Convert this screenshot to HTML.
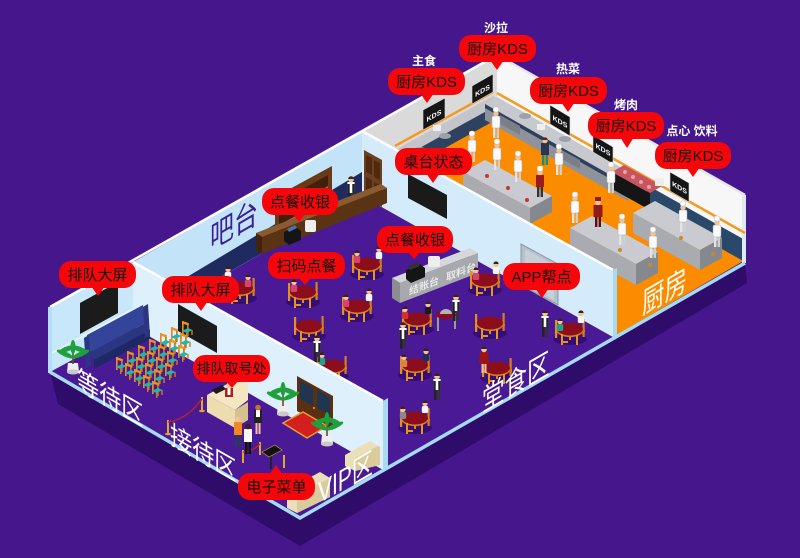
<!DOCTYPE html>
<html><head><meta charset="utf-8"><style>
html,body{margin:0;padding:0;background:#46168c;width:800px;height:558px;overflow:hidden}
svg{display:block}
text{font-family:"Liberation Sans","Noto Sans CJK SC",sans-serif}
</style></head><body>
<svg width="800" height="558" viewBox="0 0 800 558" xmlns="http://www.w3.org/2000/svg">
<defs>
 <g id="t">
  <ellipse cx="0" cy="10" rx="17" ry="6" fill="#340e74"/>
  <rect x="-15" y="-9" width="2.2" height="18" fill="#e4901f"/>
  <rect x="-15" y="2" width="7" height="2" fill="#e4901f"/>
  <rect x="12.5" y="-10" width="2.2" height="18" fill="#d97f17"/>
  <rect x="8" y="1" width="7" height="2" fill="#d97f17"/>
  <rect x="-1" y="2" width="2" height="9" fill="#e18a1c"/>
  <ellipse cx="0" cy="1.6" rx="13" ry="6.5" fill="#d9801e"/>
  <ellipse cx="0" cy="0" rx="13" ry="6.5" fill="#8c0e1d"/>
  <rect x="-9" y="5" width="2" height="11" fill="#e89520"/>
  <rect x="-9" y="12" width="7" height="2" fill="#e89520"/>
  <rect x="6" y="6" width="2" height="10" fill="#e89520"/>
 </g>
 <g id="s">
  <rect x="-3.2" y="-6" width="6.4" height="7" rx="1.5"/>
  <circle cx="0" cy="-8.5" r="2.6" fill="#f2c29a"/>
  <path d="M-2.6,-9 a2.6,2.6 0 0 1 5.2,0 z" fill="#3a2214"/>
 </g>
 <g id="w">
  <rect x="-3" y="-11" width="2.5" height="11" fill="#222"/>
  <rect x="0.5" y="-11" width="2.5" height="11" fill="#333"/>
  <rect x="-3.6" y="-21" width="7.2" height="11" fill="#fff"/>
  <rect x="-3.6" y="-19" width="2.3" height="9" fill="#222"/>
  <rect x="1.3" y="-19" width="2.3" height="9" fill="#222"/>
  <circle cx="0" cy="-23.5" r="2.8" fill="#f2c29a"/>
  <path d="M-2.8,-24 a2.8,2.8 0 0 1 5.6,0 z" fill="#3b2314"/>
 </g>
 <g id="c">
  <rect x="-3" y="-11" width="2.4" height="11" fill="#e4e4e4"/>
  <rect x="0.6" y="-11" width="2.4" height="11" fill="#cfcfcf"/>
  <rect x="-4" y="-22" width="8" height="12" rx="1.5" fill="#fafafa" stroke="#aaa" stroke-width=".5"/>
  <circle cx="0" cy="-24.5" r="2.7" fill="#f2c29a"/>
  <rect x="-2.8" y="-31" width="5.6" height="5" rx="2" fill="#fff" stroke="#bbb" stroke-width=".5"/>
 </g>
 <g id="k">
  <rect x="0" y="-10" width="1.7" height="13" fill="#e08b20"/>
  <rect x="5" y="-8" width="1.7" height="13" fill="#c8741a"/>
  <polygon points="0,-10 6.7,-8 6.7,-5.5 0,-7.5" fill="#e89522"/>
  <polygon points="0,0 6,-3 10.5,-1 4.5,2" fill="#22b5ab"/>
  <rect x="4" y="2" width="1.4" height="5" fill="#d07c1a"/>
  <rect x="9.3" y="-1" width="1.4" height="5" fill="#d07c1a"/>
 </g>
 <g id="p">
  <path d="M-6,0 L-5,-9 L5,-9 L6,0 Z" fill="#eeeeee"/>
  <ellipse cx="0" cy="0" rx="6" ry="2.5" fill="#c9c9c9"/>
  <rect x="-0.8" y="-20" width="1.6" height="12" fill="#6b4a20"/>
  <g fill="#1fa03c">
   <ellipse cx="-8" cy="-18" rx="9" ry="2.5" transform="rotate(25 -8 -18)"/>
   <ellipse cx="8" cy="-18" rx="9" ry="2.5" transform="rotate(-25 8 -18)"/>
   <ellipse cx="-6" cy="-23" rx="8" ry="2.5" transform="rotate(-20 -6 -23)"/>
   <ellipse cx="6" cy="-23" rx="8" ry="2.5" transform="rotate(20 6 -23)"/>
   <ellipse cx="0" cy="-25" rx="2.5" ry="7"/>
  </g>
 </g>
</defs>

<rect width="800" height="558" fill="#46168c"/>
<polygon points="50,372 300,518 745,263 747,283 300,546 58,404" fill="#2f0c6a"/>
<polygon points="50,372 362,196 497,118 745,262 300,518" fill="#4a1a96"/>
<polygon points="362,196 497,118 745,260 613,337" fill="#fb8c00"/>

<polygon points="50,307 133,262 133,327 50,372" fill="#c9e7fa"/>
<line x1="50" y1="354" x2="133" y2="309" stroke="#eaf7fe" stroke-width="1.5"/>
<polygon points="133,262 362,131 362,196 133,327" fill="#c3e3f8"/>
<polygon points="187,277 362,172 362,196 187,296" fill="#1f2a5e"/>
<polygon points="362,131 497,55 497,118 362,194" fill="#dadada"/>
<polygon points="497,55 745,195 745,262 497,120" fill="#f7f7f7"/>
<polygon points="647,185 745,240 745,262 647,207" fill="#2a4869"/>
<line x1="50" y1="307" x2="497" y2="55" stroke="#ffffff" stroke-width="2.5"/>
<line x1="497" y1="55" x2="745" y2="195" stroke="#e6e6e6" stroke-width="2.5"/>
<rect x="742" y="195" width="4" height="68" fill="#dfe9f0"/>
<rect x="48" y="307" width="4" height="66" fill="#b3def6"/>

<polygon points="80,303 118,282 118,313 80,334" fill="#1b1b1b"/>

<line x1="395" y1="146" x2="493" y2="92" stroke="#f59a20" stroke-width="2.5"/>
<line x1="497" y1="93" x2="745" y2="233" stroke="#f59a20" stroke-width="2.5"/>
<polygon points="395,150 493,96 503,102 405,156" fill="#c3c5ca"/>
<polygon points="405,156 503,102 503,116 405,170" fill="#2f4160"/>
<polygon points="497,97 640,178 628,185 485,104" fill="#c7c9ce"/>
<polygon points="485,104 628,185 628,201 485,120" fill="#8e939b"/>
<polygon points="485,104 628,185 628,189 485,108" fill="#2e3f5c"/>
<g fill="#7a7f88">
 <polygon points="500,115 520,126 520,135 500,124"/>
 <polygon points="560,149 580,160 580,169 560,158"/>
</g>
<g fill="#9da1a8">
 <ellipse cx="420" cy="150" rx="6" ry="3"/>
 <ellipse cx="445" cy="136" rx="6" ry="3"/>
 <ellipse cx="525" cy="116" rx="6" ry="3"/>
 <ellipse cx="565" cy="139" rx="6" ry="3"/>
</g>
<polygon points="612,172 650,193 650,210 612,189" fill="#151515"/>
<polygon points="612,172 624,165 662,186 650,193" fill="#c7555f"/>
<g fill="#e8a0a8"><circle cx="625" cy="172" r="2"/><circle cx="633" cy="177" r="2"/><circle cx="641" cy="182" r="2"/><circle cx="649" cy="187" r="2"/></g>
<rect x="433" y="125" width="8" height="6" fill="#eee"/>
<rect x="537" y="124" width="8" height="6" fill="#eee"/>
<rect x="655" y="178" width="9" height="8" fill="#eee"/>

<polygon points="423,110 445,98 445,118 423,130" fill="#151515" stroke="#ddd" stroke-width=".6"/>
<text transform="translate(434,118) skewY(-29)" font-size="7" font-weight="bold" fill="#fff" text-anchor="middle">KDS</text>
<polygon points="472,86 493,74 493,92 472,104" fill="#151515" stroke="#ddd" stroke-width=".6"/>
<text transform="translate(482.5,93) skewY(-29)" font-size="7" font-weight="bold" fill="#fff" text-anchor="middle">KDS</text>
<polygon points="550,105 570,117 570,136 550,124" fill="#151515" stroke="#ddd" stroke-width=".6"/>
<text transform="translate(560,124) skewY(30)" font-size="7" font-weight="bold" fill="#fff" text-anchor="middle">KDS</text>
<polygon points="593,135 613,147 613,164 593,152" fill="#151515" stroke="#ddd" stroke-width=".6"/>
<text transform="translate(603,152) skewY(30)" font-size="7" font-weight="bold" fill="#fff" text-anchor="middle">KDS</text>
<polygon points="670,172 689,183 689,202 670,191" fill="#151515" stroke="#ddd" stroke-width=".6"/>
<text transform="translate(679.5,190) skewY(30)" font-size="7" font-weight="bold" fill="#fff" text-anchor="middle">KDS</text>

<use href="#c" x="496" y="138"/>
<use href="#c" x="472" y="162"/>
<g transform="translate(545,165)"><rect x="-3" y="-11" width="2.4" height="11" fill="#1f8a7a"/><rect x="0.6" y="-11" width="2.4" height="11" fill="#1f8a7a"/><rect x="-4" y="-22" width="8" height="12" fill="#2a3550"/><circle cx="0" cy="-24.5" r="2.7" fill="#f2c29a"/><path d="M-2.7,-25 a2.7,2.7 0 0 1 5.4,0 z" fill="#5a2a10"/></g>
<use href="#c" x="559" y="175"/>
<use href="#c" x="611" y="193"/>

<polygon points="463,172 485,160 552,196 530,208" fill="#c9cbd0"/>
<polygon points="463,172 530,208 530,224 463,188" fill="#a9abb0"/>
<polygon points="530,208 552,196 552,212 530,224" fill="#85888e"/>
<use href="#c" x="497" y="170"/>
<use href="#c" x="518" y="182"/>
<g transform="translate(540,197)"><rect x="-3" y="-11" width="2.4" height="11" fill="#333"/><rect x="0.6" y="-11" width="2.4" height="11" fill="#333"/><rect x="-4" y="-22" width="8" height="12" fill="#9a1b1b"/><circle cx="0" cy="-24.5" r="2.7" fill="#f2c29a"/><rect x="-2.8" y="-31" width="5.6" height="5" rx="2" fill="#fff"/></g>
<g fill="#c23a2a"><circle cx="487" cy="176" r="2"/><circle cx="508" cy="188" r="2"/><circle cx="527" cy="200" r="2"/></g>

<polygon points="633,213 655,201 722,238 700,250" fill="#c9cbd0"/>
<polygon points="633,213 700,250 700,270 633,233" fill="#a9abb0"/>
<polygon points="700,250 722,238 722,258 700,270" fill="#85888e"/>
<use href="#c" x="683" y="232"/>
<use href="#c" x="717" y="247"/>

<polygon points="570,228 592,216 658,252 636,264" fill="#c9cbd0"/>
<polygon points="570,228 636,264 636,285 570,249" fill="#a9abb0"/>
<polygon points="636,264 658,252 658,273 636,285" fill="#85888e"/>
<use href="#c" x="575" y="223"/>
<g transform="translate(598,227)"><rect x="-3" y="-11" width="2.4" height="11" fill="#5a1010"/><rect x="0.6" y="-11" width="2.4" height="11" fill="#5a1010"/><rect x="-4.5" y="-22" width="9" height="12" fill="#8e1c1c"/><circle cx="0" cy="-24.5" r="2.7" fill="#f2c29a"/><rect x="-3" y="-30" width="6" height="4" fill="#8e1c1c"/></g>
<use href="#c" x="622" y="245"/>
<use href="#c" x="653" y="258"/>
<g fill="#c98a2a"><circle cx="620" cy="250" r="2"/><circle cx="650" cy="265" r="2"/><circle cx="713" cy="254" r="2"/><circle cx="681" cy="238" r="2"/></g>

<polygon points="362,131 613,270 613,337 362,196" fill="#d3ebfb"/>
<line x1="362" y1="131" x2="613" y2="270" stroke="#ffffff" stroke-width="2.5"/>
<polygon points="613,270 617,268 617,335 613,337" fill="#a9daf3"/>
<polygon points="521,244 558,264 558,305 521,285" fill="#b6c1cd" stroke="#8c98a5" stroke-width="1"/>
<polygon points="525,249 554,265 554,300 525,284" fill="#c6d0da"/>
<circle cx="529" cy="270" r="1.8" fill="#4a5a7a"/>
<polygon points="408,174 447,195 447,219 408,198" fill="#1a1a1a"/>
<polygon points="364,150 382,160 382,207 364,197" fill="#6d3f1e"/>
<polygon points="366,155 372,158 372,175 366,172" fill="#4f2a10"/>
<polygon points="374,160 380,163 380,180 374,177" fill="#4f2a10"/>
<polygon points="366,177 372,180 372,197 366,194" fill="#4f2a10"/>
<polygon points="374,182 380,185 380,202 374,199" fill="#4f2a10"/>

<polygon points="275,197 332,166 332,215 275,246" fill="#6a3a18"/>
<polygon points="279,202 328,175 328,209 279,236" fill="#3e200b"/>
<g fill="#9b6a3a"><polygon points="279,213 328,186 328,188 279,215"/><polygon points="279,225 328,198 328,200 279,227"/></g>
<use href="#w" x="351" y="203"/>
<polygon points="256,233 381,184 387,188 262,237" fill="#8a5a30"/>
<polygon points="262,237 387,188 387,203 262,254" fill="#5a3214"/>
<polygon points="256,233 262,237 262,254 256,250" fill="#432309"/>
<polygon points="284,232 296,227 301,231 301,240 289,245 284,241" fill="#151515"/>
<polygon points="287,229 295,225 297,228 289,232" fill="#4b6fb0"/>
<rect x="305" y="220" width="11" height="12" rx="2" fill="#eeeeee"/>

<polygon points="392,278 470,248 478,253 400,283" fill="#d5d7db"/>
<polygon points="400,283 478,253 478,273 400,303" fill="#a7a9ae"/>
<polygon points="392,278 400,283 400,303 392,298" fill="#8b8d92"/>
<polygon points="406,270 420,264 425,268 425,277 411,283 406,279" fill="#151515"/>
<polygon points="408,266 418,262 420,266 410,270" fill="#333"/>
<rect x="428" y="256" width="12" height="11" rx="2" fill="#eeeeee"/>
<text transform="translate(409,295) skewY(-21)" font-size="10" font-weight="bold" fill="#e8e8e8">结账台</text>
<text transform="translate(446,281) skewY(-21)" font-size="10" font-weight="bold" fill="#e8e8e8">取料台</text>

<use href="#t" x="240" y="288"/>
<use href="#t" x="367" y="264"/>
<use href="#t" x="303" y="292"/>
<use href="#t" x="357" y="306"/>
<use href="#t" x="309" y="326"/>
<use href="#t" x="332" y="366"/>
<use href="#t" x="417" y="319"/>
<use href="#t" x="485" y="280"/>
<use href="#t" x="490" y="323"/>
<use href="#t" x="415" y="365"/>
<use href="#t" x="497" y="368"/>
<use href="#t" x="415" y="418"/>
<use href="#t" x="570" y="329"/>
<use href="#s" x="228" y="278" fill="#f4f4f4"/>
<use href="#s" x="248" y="286" fill="#d5446a"/>
<use href="#s" x="379" y="258" fill="#f4f4f4"/>
<use href="#s" x="357" y="262" fill="#d5446a"/>
<use href="#s" x="294" y="291" fill="#d5446a"/>
<use href="#s" x="369" y="300" fill="#f4f4f4"/>
<use href="#s" x="346" y="306" fill="#d5446a"/>
<use href="#s" x="405" y="318" fill="#d83030"/>
<use href="#s" x="428" y="313" fill="#1a1a1a"/>
<use href="#s" x="476" y="279" fill="#d5446a"/>
<use href="#s" x="496" y="273" fill="#f4f4f4"/>
<use href="#s" x="404" y="366" fill="#e08040"/>
<use href="#s" x="426" y="360" fill="#1e2e5e"/>
<use href="#s" x="322" y="364" fill="#23a08a"/>
<use href="#s" x="403" y="418" fill="#888"/>
<use href="#s" x="425" y="412" fill="#f4f4f4"/>
<use href="#s" x="560" y="330" fill="#23a08a"/>
<use href="#s" x="581" y="322" fill="#f4f4f4"/>
<rect x="437" y="315" width="2" height="16" fill="#9a9a9a"/>
<rect x="454" y="313" width="2" height="16" fill="#9a9a9a"/>
<ellipse cx="446" cy="315" rx="10" ry="4" fill="#8c0e1d"/>
<path d="M440,314 a6,5 0 0 1 12,0 z" fill="#b5b5b5"/>
<use href="#w" x="456" y="321"/>
<use href="#w" x="545" y="337"/>
<use href="#w" x="403" y="349"/>
<use href="#w" x="437" y="400"/>
<use href="#w" x="317" y="362"/>
<g transform="translate(484,373)"><rect x="-2.5" y="-11" width="2" height="11" fill="#f2c29a"/><rect x="0.5" y="-11" width="2" height="11" fill="#f2c29a"/><path d="M-4,-21 L4,-21 L5,-9 L-5,-9 Z" fill="#9b1515"/><circle cx="0" cy="-23.5" r="2.8" fill="#f2c29a"/><path d="M-2.8,-24 a2.8,2.8 0 0 1 5.6,0 z" fill="#3b2314"/></g>

<polygon points="133,262 383,401 383,470 133,327" fill="#ddf0fc"/>
<line x1="133" y1="262" x2="383" y2="401" stroke="#ffffff" stroke-width="2.5"/>
<polygon points="383,401 388,398 388,467 383,470" fill="#a9daf3"/>
<polygon points="178,304 217,326 217,353 178,331" fill="#1b1b1b"/>
<polygon points="297,376 333,396 333,430 297,411" fill="#5b2f12"/>
<polygon points="300,381 313,388 313,406 300,399" fill="#1f3550"/>
<polygon points="317,390 330,397 330,415 317,408" fill="#1f3550"/>
<circle cx="314" cy="408" r="1" fill="#e0b040"/>
<polygon points="283,423 303,412 327,426 307,438" fill="#d41f1f" stroke="#e0a030" stroke-width="1.5"/>
<use href="#p" x="283" y="414"/>
<use href="#p" x="327" y="444"/>

<polygon points="87,335 143,305 145,323 89,353" fill="#34449a"/>
<polygon points="89,353 145,323 150,330 94,360" fill="#2a3680"/>
<polygon points="94,360 150,330 150,339 94,369" fill="#1e2866"/>
<polygon points="84,338 89,335 91,366 86,368" fill="#2a3680"/>
<polygon points="143,307 148,304 150,336 145,338" fill="#2a3680"/>
<use href="#p" x="73" y="372"/>
<g>
 <use href="#k" x="160" y="343"/><use href="#k" x="171" y="337"/><use href="#k" x="182" y="331"/>
 <use href="#k" x="149" y="349"/><use href="#k" x="158" y="355"/><use href="#k" x="169" y="349"/><use href="#k" x="180" y="343"/>
 <use href="#k" x="138" y="355"/><use href="#k" x="147" y="361"/><use href="#k" x="156" y="367"/><use href="#k" x="167" y="361"/><use href="#k" x="178" y="355"/>
 <use href="#k" x="127" y="361"/><use href="#k" x="136" y="367"/><use href="#k" x="145" y="373"/><use href="#k" x="154" y="379"/><use href="#k" x="165" y="373"/>
 <use href="#k" x="116" y="367"/><use href="#k" x="125" y="373"/><use href="#k" x="134" y="379"/><use href="#k" x="143" y="385"/><use href="#k" x="152" y="391"/>
</g>

<polygon points="207,395 238,378 248,383 248,400 235,410" fill="#f4e6c3"/>
<polygon points="207,395 235,410 235,428 207,412" fill="#eedcb0"/>
<polygon points="235,410 248,402 248,420 235,428" fill="#d6c08e"/>
<polygon points="212,390 222,385 226,389 216,394" fill="#1a1a1a"/>
<g transform="translate(229,397)"><rect x="-4" y="-9" width="8" height="9" fill="#a8201f"/><rect x="-1.5" y="-9" width="3" height="7" fill="#fff"/><circle cx="0" cy="-11.5" r="2.7" fill="#f2c29a"/></g>
<g fill="#e0a828">
 <rect x="167" y="420" width="2" height="14"/><rect x="201" y="397" width="2" height="14"/>
 <rect x="242" y="450" width="2" height="13"/><rect x="259" y="442" width="2" height="13"/><rect x="283" y="455" width="2" height="13"/>
 <ellipse cx="168" cy="434" rx="3" ry="1.2"/><ellipse cx="202" cy="411" rx="3" ry="1.2"/>
</g>
<path d="M168,422 Q186,420 202,399" stroke="#c41e1e" stroke-width="1.3" fill="none"/>
<path d="M243,452 Q252,452 260,444" stroke="#c41e1e" stroke-width="1.3" fill="none"/>
<rect x="270" y="455" width="1.8" height="14" fill="#222"/>
<polygon points="262,452 275,445 282,450 269,457" fill="#111" stroke="#c8a040" stroke-width=".6"/>
<g transform="translate(238,447)"><rect x="-3" y="-13" width="2.5" height="13" fill="#2a3a5a"/><rect x="0.5" y="-13" width="2.5" height="13" fill="#2a3a5a"/><rect x="-4" y="-25" width="8" height="13" fill="#f08a20"/><circle cx="0" cy="-27.5" r="2.8" fill="#f2c29a"/></g>
<g transform="translate(248,454)"><rect x="-3" y="-13" width="2.5" height="13" fill="#111"/><rect x="0.5" y="-13" width="2.5" height="13" fill="#111"/><rect x="-4" y="-25" width="8" height="13" fill="#fafafa"/><circle cx="0" cy="-27.5" r="2.8" fill="#3a2214"/></g>
<g transform="translate(258,434)"><rect x="-2.5" y="-12" width="2" height="12" fill="#f2c29a"/><rect x="0.5" y="-12" width="2" height="12" fill="#f2c29a"/><rect x="-4" y="-24" width="8" height="13" fill="#222"/><rect x="-2" y="-24" width="4" height="7" fill="#fff"/><circle cx="0" cy="-26.5" r="2.8" fill="#c87030"/></g>
<polygon points="345,455 370,441 380,447 380,465 355,471 345,466" fill="#eadfb8"/>
<polygon points="355,458 378,446 380,447 380,465 355,471" fill="#d9cb9c"/>
<polygon points="287,490 320,472 330,478 330,497 297,513 287,508" fill="#eadfb8"/>
<polygon points="297,495 330,478 330,497 297,513" fill="#d9cb9c"/>

<polyline points="50,372 300,518 745,263" fill="none" stroke="#a6dbf5" stroke-width="3.5"/>

<g fill="#ffffff">
 <text transform="translate(77,388) skewY(30) scale(0.82,1)" font-size="27" font-family="Noto Sans CJK SC, sans-serif">等待区</text>
 <text transform="translate(170,443) skewY(30) scale(0.82,1)" font-size="27" font-family="Noto Sans CJK SC, sans-serif">接待区</text>
 <text transform="translate(482,412) skewY(-30) scale(0.75,1)" font-size="30" font-family="Noto Sans CJK SC, sans-serif">堂食区</text>
 <text transform="translate(642,315) skewY(-30) scale(0.75,1)" font-size="30" font-family="Noto Sans CJK SC, sans-serif">厨房</text>
 <text transform="translate(318,504) skewY(-30) scale(0.7,1)" font-size="30">VIP区</text>
</g>
<text transform="translate(210,250) skewY(-30) scale(0.75,1)" font-size="32" fill="#3b2095" font-family="Noto Sans CJK SC, sans-serif">吧台</text>

<g fill="#ffffff" font-size="12" font-weight="bold" text-anchor="middle">
 <text x="424" y="65">主食</text>
 <text x="496" y="32">沙拉</text>
 <text x="568" y="73">热菜</text>
 <text x="626" y="109">烤肉</text>
 <text x="692" y="135">点心 饮料</text>
</g>

<g fill="#f5060a">
 <rect x="388" y="68" width="77" height="27" rx="12"/><polygon points="420,93 434,93 427,103"/>
 <rect x="459" y="35" width="77" height="27" rx="12"/><polygon points="490,60 504,60 497,70"/>
 <rect x="530" y="77" width="77" height="27" rx="12"/><polygon points="561,102 575,102 568,112"/>
 <rect x="588" y="112" width="76" height="27" rx="12"/><polygon points="620,137 634,137 627,148"/>
 <rect x="655" y="142" width="76" height="27" rx="12"/><polygon points="686,167 700,167 693,177"/>
 <rect x="395" y="148" width="77" height="27" rx="12"/><polygon points="426,173 440,173 433,183"/>
 <rect x="262" y="188" width="76" height="27" rx="12"/><polygon points="292,213 306,213 299,222"/>
 <rect x="377" y="226" width="76" height="27" rx="12"/><polygon points="407,251 421,251 414,259"/>
 <rect x="268" y="252" width="77" height="27" rx="12"/><polygon points="298,277 312,277 305,285"/>
 <rect x="503" y="263" width="77" height="27" rx="12"/><polygon points="535,288 549,288 542,298"/>
 <rect x="59" y="261" width="77" height="27" rx="12"/><polygon points="91,286 105,286 98,296"/>
 <rect x="162" y="276" width="77" height="27" rx="12"/><polygon points="194,301 208,301 201,311"/>
 <rect x="193" y="355" width="77" height="27" rx="12"/><polygon points="225,380 239,380 232,388"/>
 <rect x="238" y="473" width="77" height="27" rx="12"/><polygon points="269,475 283,475 276,465"/>
</g>
<g fill="#111" font-size="15" text-anchor="middle">
 <text x="426.5" y="87">厨房KDS</text>
 <text x="497.5" y="54">厨房KDS</text>
 <text x="568.5" y="96">厨房KDS</text>
 <text x="626" y="131">厨房KDS</text>
 <text x="693" y="161">厨房KDS</text>
 <text x="433.5" y="167">桌台状态</text>
 <text x="300" y="207">点餐收银</text>
 <text x="415" y="245">点餐收银</text>
 <text x="306.5" y="271">扫码点餐</text>
 <text x="541.5" y="282">APP帮点</text>
 <text x="97.5" y="280">排队大屏</text>
 <text x="200.5" y="295">排队大屏</text>
 <text x="231.5" y="373.5" font-size="14">排队取号处</text>
 <text x="276.5" y="492">电子菜单</text>
</g>
</svg>
</body></html>
